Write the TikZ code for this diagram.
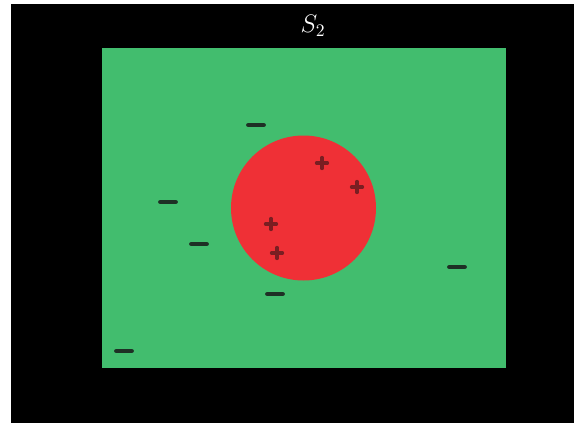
\documentclass[tikz,border=0pt]{standalone}
\usetikzlibrary{positioning}
\definecolor{field}{HTML}{42BD6E}
\definecolor{blob}{HTML}{EF3036}
\definecolor{negmark}{HTML}{1E3025}
\definecolor{posmark}{HTML}{7A1E22}
\tikzset{
  every picture/.style={line cap=round, line join=round},
  % charge symbols (absolute sizes)
  neg/.pic={
    \draw[negmark, line width=2.7pt] (-0.15cm,0) -- (0.15cm,0);
  },
  pos/.pic={
    \draw[posmark, line width=1.9pt] (-0.11cm,0) -- (0.11cm,0) (0,-0.11cm) -- (0,0.11cm);
  },
}

\begin{document}
\begin{tikzpicture}[x=0.02cm, y=-0.02cm]
  \useasboundingbox (0,0) rectangle (576,423);
  % ---------------- background and region S_2
  \fill[black] (11,4) rectangle (574,423);
  \fill[field] (102,48) rectangle (506,368);
  \node[white, font=\Large] (title) at (313,26) {$S_2$};
  % ---------------- inner disc
  \fill[blob] (303.5,208) circle (72.5);
  % ---------------- negative marks outside the disc
  \foreach \p in {(256,125), (168,202), (199,244), (275,294), (457,267), (124,351)}
    \pic at \p {neg};
  % ---------------- positive marks inside the disc
  \foreach \p in {(322,163), (357,187), (271,224), (277,253)}
    \pic at \p {pos};
\end{tikzpicture}
\end{document}
